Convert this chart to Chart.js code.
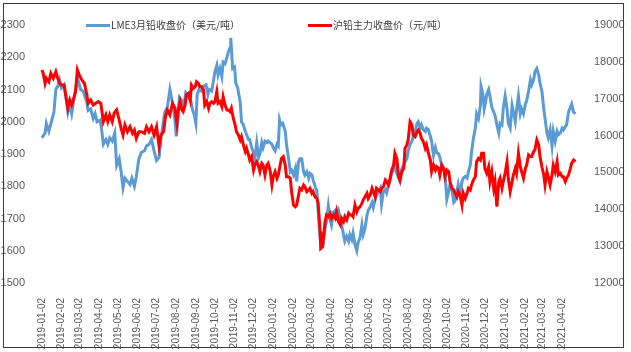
<!DOCTYPE html>
<html>
<head>
<meta charset="utf-8">
<script src="https://cdn.jsdelivr.net/npm/chart.js@4.4.1/dist/chart.umd.min.js"></script>
<style>
  html, body { margin: 0; padding: 0; background: #fff; }
  #wrap { position: relative; width: 631px; height: 352px; background: #fff; overflow: hidden; }
  #c { position: absolute; left: 0; top: 0; }
  #frame { position: absolute; left: 3px; top: 3px; width: 621px; height: 345px; border: 1px solid #3a3a3a; box-sizing: border-box; pointer-events: none; }
  .lg-line { position: absolute; height: 3px; width: 24px; top: 24px; }
  .lg-text { position: absolute; top: 18px; font-family: "Noto Sans CJK SC", sans-serif; font-size: 10px; line-height: 14px; color: #404040; white-space: nowrap; }
</style>
</head>
<body>
<div id="wrap">
  <canvas id="c" width="631" height="352"></canvas>
  <div id="frame"></div>
  <div class="lg-line" style="left:86px;background:#5B9BD5"></div>
  <div class="lg-text" id="lg1" style="left:111px"></div>
  <div class="lg-line" style="left:308px;background:#FF0000"></div>
  <div class="lg-text" id="lg2" style="left:333px"></div>
</div>
<script>
// ---- data ----
const seriesNames = ['LME3月铅收盘价（美元/吨）', '沪铅主力收盘价（元/吨）'];

const tickLabels = ['2019-01-02','2019-02-02','2019-03-02','2019-04-02','2019-05-02','2019-06-02','2019-07-02',
  '2019-08-02','2019-09-02','2019-10-02','2019-11-02','2019-12-02','2020-01-02','2020-02-02','2020-03-02',
  '2020-04-02','2020-05-02','2020-06-02','2020-07-02','2020-08-02','2020-09-02','2020-10-02','2020-11-02',
  '2020-12-02','2021-01-02','2021-02-02','2021-03-02','2021-04-02'];

// days since 2019-01-02
const lmeDays = [0,5,7,11,15,19,22,25,28,31,35,39,41,44,47,51,55,57,61,65,71,73,77,81,84,87,92,94,97,101,
  104,107,111,115,118,122,125,128,131,135,139,142,146,149,153,157,162,165,169,173,177,181,185,188,194,198,202,206,210,
  212,214,217,221,224,227,231,235,238,240,243,245,248,252,255,259,262,264,268,271,273,276,278,281,284,286,289,292,294,297,
  298,301,304,306,309,313,315,318,321,323,326,328,331,334,336,339,342,344,347,349,352,355,357,360,363,365,368,371,373,375,
  377,380,384,386,389,392,394,397,400,402,405,407,410,413,415,418,421,423,
  426,428,431,434,436,439,442,444,447,449,452,455,457,460,463,465,468,471,473,476,478,481,484,486,489,491,494,497,499,502,
  505,507,510,513,515,518,521,523,526,528,531,534,536,539,542,544,547,549,552,555,557,560,563,565,568,571,573,576,578,581,
  584,586,589,592,594,597,599,602,605,607,610,613,615,618,621,623,626,628,631,634,636,
  639,642,644,647,650,652,655,657,660,663,665,668,671,673,676,678,681,684,686,689,692,693,696,698,700,
  702,705,707,710,713,715,718,721,723,726,728,731,734,736,739,742,744,747,749,752,755,757,760,763,765,768,771,773,776,778,
  781,784,786,789,792,794,797,799,802,805,807,810,813,815,818,821,823,826,828,831,834,836,839,842];
const lmeValues = [1950,1965,1995,1970,2000,2030,2100,2110,2130,2105,2115,2060,2030,2055,2025,2075,2115,2130,2100,2095,
  2060,2035,2040,2010,2025,2000,2005,1980,1930,1945,1930,1950,1940,1965,1865,1885,1845,1795,1825,1815,
  1805,1825,1800,1830,1885,1905,1910,1925,1930,1945,1910,1880,1890,1950,2030,2045,2100,2060,2005,
  1955,1990,2075,2065,2050,2090,2080,2065,2035,2025,1995,2085,2100,2095,2110,2115,2085,2100,2095,2130,
  2155,2175,2145,2165,2140,2185,2180,2200,2215,2230,2260,2165,2170,2120,2105,2060,2000,1990,1970,1960,
  1945,1945,1920,1905,1885,1935,1890,1900,1935,1920,1940,1935,1940,1935,1930,1920,1910,1930,1925,2005,
  1990,1995,1970,1930,1890,1845,1850,1835,1855,1815,1875,1885,1885,1845,1835,1845,1825,1840,
  1835,1820,1800,1785,1720,1640,1615,1620,1670,1690,1740,1695,1680,1720,1725,1710,1725,1700,1680,1650,
  1630,1645,1630,1650,1635,1655,1620,1600,1625,1640,1680,1650,1670,1710,1725,1735,1750,1735,1760,1770,
  1785,1795,1745,1785,1790,1780,1805,1815,1840,1850,1865,1840,1825,1815,1855,1865,1875,1885,1910,1930,
  1940,1955,1970,1995,2000,1980,1990,1975,1970,1980,1975,1955,1940,1895,1920,1905,1900,1890,1865,1855,1845,
  1760,1785,1805,1790,1750,1755,1785,1805,1775,1815,1825,1830,1825,1845,1865,1905,1950,1980,2025,2010,2050,
  2110,2085,2040,2060,
  2085,2100,2080,2045,2030,2020,1990,1965,1995,1990,2040,2080,2040,1995,1980,2050,2030,2000,2035,2080,
  2025,2040,2025,2055,2065,2095,2130,2115,2130,2155,2165,2145,2120,2095,2040,2010,1965,1950,1975,1925,
  1970,1940,1970,1960,1965,1980,1975,1985,1990,2030,2045,2055,2030,2025];

const shfeDays = [0,2,5,7,11,14,18,22,25,28,31,35,38,41,44,47,51,53,56,59,63,67,71,73,77,81,85,89,93,97,
  101,104,107,111,114,118,122,125,128,131,135,139,143,146,149,153,157,162,165,169,173,177,181,185,188,192,195,198,202,206,210,
  213,215,218,221,223,226,228,231,234,236,239,242,244,247,249,252,255,257,260,263,265,268,271,273,276,278,281,284,286,289,
  292,294,297,299,302,305,307,310,313,315,318,321,323,326,328,331,334,336,339,342,344,347,349,352,355,357,360,363,365,368,
  371,373,376,378,381,384,386,389,392,394,397,400,402,405,407,410,413,415,418,421,423,
  426,428,431,434,436,439,440,443,444,447,449,452,455,457,460,463,465,468,471,473,476,478,481,484,486,489,491,494,497,499,
  502,505,507,510,513,515,518,521,523,526,528,531,534,536,539,542,544,547,549,552,555,557,560,563,565,568,571,573,576,578,
  581,584,586,589,592,594,597,599,602,605,607,610,613,615,618,621,623,626,628,631,634,636,
  639,642,644,647,650,652,655,657,660,663,665,668,671,673,676,678,681,684,686,689,692,694,697,699,702,705,707,710,713,715,
  718,721,723,726,728,731,734,736,739,742,744,747,749,752,755,757,760,763,765,768,771,773,776,778,781,784,786,789,792,794,
  797,799,802,805,807,810,813,815,818,821,823,826,828,831,834,836,839,842];
const shfeValues = [17780,17690,17420,17555,17460,17690,17555,17735,17555,17420,17370,17370,17055,16740,16965,16830,17055,17190,17780,17645,
  17510,17420,17100,16875,16965,16830,16875,16920,16875,16375,16560,16375,16560,16375,16605,16695,16420,16195,16015,16285,
  16105,16240,16060,16150,15925,16105,16105,16060,16240,16105,16240,16015,16240,15700,16015,16105,16515,16695,16560,16875,16740,
  16330,16650,16920,16695,16650,16830,17100,17145,16965,17370,17280,17325,17460,17415,17325,17325,17235,16830,16920,16740,
  16875,16920,16875,16920,17190,16875,16920,16785,17055,16830,16695,16695,16650,16740,16470,16285,16105,16015,15880,15970,
  15745,15565,15655,15475,15335,15430,15065,15200,15290,15155,15020,15245,15200,14930,15200,15245,15065,14660,14885,15020,
  14840,14930,15200,15380,15430,15200,14885,14885,14840,14480,14115,14070,14115,14385,14570,14525,14660,14615,14480,14525,14570,
  14435,14480,14340,14295,14160,13395,12940,12985,13210,13665,13845,13800,13890,13755,13845,13755,13935,13665,13575,13755,
  13665,13800,13710,13890,13845,13845,13800,14115,13935,14025,14070,14160,14250,14340,14435,14295,14385,14570,14480,14340,
  14570,14525,14480,14570,14615,14795,14750,14660,14795,15065,15200,15520,15380,14885,14795,15020,15110,15655,15745,15880,
  16375,16285,16015,15970,16105,16150,16060,15925,15835,15655,15745,15520,15335,15020,15200,15065,15155,15110,14930,15200,15110,14885,
  15065,15020,14750,14570,14525,14435,14340,14480,14385,14115,14435,14295,14435,14570,14525,14660,14795,14885,15290,15380,
  15335,15520,15520,15110,14975,15155,14750,15020,14570,14750,14070,14750,14840,14570,14750,14975,15290,14840,14480,14750,
  14930,15110,14975,15520,15155,15020,14840,15110,15200,15475,15430,15430,15565,15610,15880,15745,15430,15155,14930,14660,
  15020,14885,14660,14930,15200,15020,15290,14930,14975,14885,14885,14750,14840,14930,15110,15245,15335,15290];

// ---- helpers ----
const DAY0 = Date.UTC(2019, 0, 2);
function dayOf(s) { const p = s.split('-').map(Number); return (Date.UTC(p[0], p[1]-1, p[2]) - DAY0) / 86400000; }
const tickDays = tickLabels.map(dayOf);
const toPts = (xs, ys) => xs.map((x, i) => ({ x: x, y: ys[i] }));

document.getElementById('lg1').textContent = seriesNames[0];
document.getElementById('lg2').textContent = seriesNames[1];

const GRAY = '#595959';
const numFont = { family: "'Liberation Sans', Arial, sans-serif", size: 11 };
const plain = (v) => String(v);

new Chart(document.getElementById('c'), {
  type: 'line',
  data: {
    datasets: [
      { label: seriesNames[0], data: toPts(lmeDays, lmeValues), yAxisID: 'y', borderColor: '#5B9BD5',
        borderWidth: 3, pointRadius: 0, tension: 0, order: 1 },
      { label: seriesNames[1], data: toPts(shfeDays, shfeValues), yAxisID: 'y1', borderColor: '#FF0000',
        borderWidth: 3, pointRadius: 0, tension: 0, order: 0 }
    ]
  },
  options: {
    responsive: false,
    animation: false,
    events: [],
    layout: { padding: { top: 25, left: 0, right: 0, bottom: 0 } },
    plugins: { legend: { display: false }, tooltip: { enabled: false } },
    scales: {
      x: {
        type: 'linear', min: -3, max: 846,
        grid: { display: false }, border: { display: false },
        afterBuildTicks: (s) => { s.ticks = tickDays.map(v => ({ value: v })); },
        afterFit: (s) => { s.height = 69; },
        ticks: {
          autoSkip: false, maxRotation: 90, minRotation: 90, padding: 7, color: GRAY,
          font: { family: "'Liberation Sans', Arial, sans-serif", size: 10 },
          callback: (v, i) => tickLabels[i]
        }
      },
      y: {
        position: 'left', min: 1500, max: 2300,
        grid: { display: false }, border: { display: false },
        afterFit: (s) => { s.width = 40; },
        ticks: { stepSize: 100, padding: 7, color: GRAY, font: numFont, callback: plain }
      },
      y1: {
        position: 'right', min: 12000, max: 19000,
        grid: { display: false }, border: { display: false },
        afterFit: (s) => { s.width = 53; },
        ticks: { stepSize: 1000, padding: 8, color: GRAY, font: numFont, callback: plain }
      }
    }
  }
});
</script>
</body>
</html>
